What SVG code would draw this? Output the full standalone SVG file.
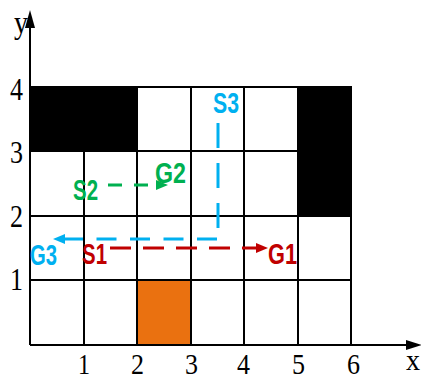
<svg xmlns="http://www.w3.org/2000/svg" width="421" height="379" viewBox="0 0 421 379">
<style>
.grid{stroke:#000;stroke-width:2;fill:none}
.num{font-family:"Liberation Serif",serif;font-size:32px;fill:#000}
.xn{font-size:30px}
.lbl{font-family:"Liberation Sans",Arial,sans-serif;font-size:29px;font-weight:bold}
.red{fill:#c00000}.redS{stroke:#c00000}
.grn{fill:#00b050}.grnS{stroke:#00b050}
.blu{fill:#00b0f0}.bluS{stroke:#00b0f0}
.dash{stroke-width:3;fill:none}
</style>
<rect width="421" height="379" fill="#fff"/>
<g id="cells">
<rect x="30" y="87" width="107" height="64" fill="#000"/>
<rect x="298" y="87" width="53" height="129" fill="#000"/>
<rect x="137" y="280" width="54" height="65" fill="#ea7110"/>
</g>
<g id="grid" class="grid">
<path d="M30 87H351V345M30 151H351M30 216H351M30 280H351M84 87V345M137 87V345M191 87V345M244 87V345M298 87V345"/>
</g>
<g id="axes">
<path d="M30 345V22M30 345H412" stroke="#000" stroke-width="2" fill="none"/>
<polygon points="30,10 25,28 35,28" fill="#000"/>
<polygon points="422,345 406,340 406,350" fill="#000"/>
<text class="num" x="14" y="33" textLength="14" lengthAdjust="spacingAndGlyphs">y</text>
<text class="num xn" x="406" y="370" textLength="14" lengthAdjust="spacingAndGlyphs">x</text>
<text class="num" x="10" y="100" textLength="13" lengthAdjust="spacingAndGlyphs">4</text>
<text class="num" x="10" y="163" textLength="13" lengthAdjust="spacingAndGlyphs">3</text>
<text class="num" x="10" y="227" textLength="13" lengthAdjust="spacingAndGlyphs">2</text>
<text class="num" x="10" y="290" textLength="13" lengthAdjust="spacingAndGlyphs">1</text>
<text class="num xn" x="78" y="374" textLength="12" lengthAdjust="spacingAndGlyphs">1</text>
<text class="num xn" x="131" y="374" textLength="13" lengthAdjust="spacingAndGlyphs">2</text>
<text class="num xn" x="185" y="374" textLength="13" lengthAdjust="spacingAndGlyphs">3</text>
<text class="num xn" x="237" y="374" textLength="13" lengthAdjust="spacingAndGlyphs">4</text>
<text class="num xn" x="292" y="374" textLength="13" lengthAdjust="spacingAndGlyphs">5</text>
<text class="num xn" x="347" y="374" textLength="13" lengthAdjust="spacingAndGlyphs">6</text>
</g>
<g id="connectors">
<g id="path-red">
<line class="dash redS" x1="110" y1="248" x2="258" y2="248" stroke-dasharray="21 12"/>
<polygon class="red" points="268,248 256,243 256,253"/>
</g>
<g id="path-green">
<line class="dash grnS" x1="108" y1="185" x2="158" y2="185" stroke-dasharray="14 12"/>
<polygon class="grn" points="168,185 156,180 156,190"/>
</g>
<g id="path-blue">
<line class="dash bluS" x1="218" y1="123" x2="218" y2="229" stroke-dasharray="25 15"/>
<line class="dash bluS" x1="217" y1="239" x2="64" y2="239" stroke-dasharray="20 13.5"/>
<polygon class="blu" points="53,239 65,234 65,244"/>
</g>
</g>
<g id="S1"><text class="lbl red" x="82" y="264" textLength="25" lengthAdjust="spacingAndGlyphs">S1</text></g>
<g id="G1"><text class="lbl red" x="268" y="264" textLength="29" lengthAdjust="spacingAndGlyphs">G1</text></g>
<g id="S2"><text class="lbl grn" x="73" y="200" textLength="25" lengthAdjust="spacingAndGlyphs">S2</text></g>
<g id="G2"><text class="lbl grn" x="155" y="183" textLength="31" lengthAdjust="spacingAndGlyphs">G2</text></g>
<g id="S3"><text class="lbl blu" x="213" y="113" textLength="26" lengthAdjust="spacingAndGlyphs">S3</text></g>
<g id="G3"><text class="lbl blu" x="30" y="265" textLength="27" lengthAdjust="spacingAndGlyphs">G3</text></g>
</svg>
